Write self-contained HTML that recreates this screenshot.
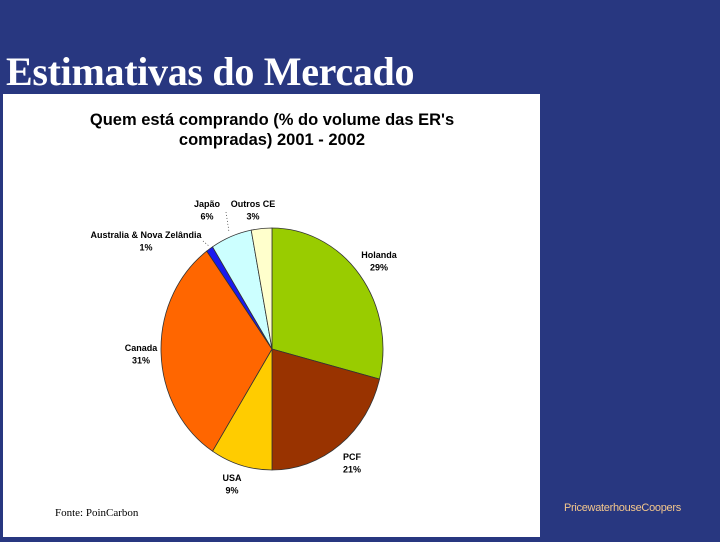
<!DOCTYPE html>
<html><head><meta charset="utf-8"><style>
body{margin:0;width:720px;height:540px;background:#283780;position:relative;overflow:hidden;font-family:"Liberation Sans",sans-serif}
#title{position:absolute;left:6px;top:48px;font:bold 40px "Liberation Serif",serif;color:#fff;white-space:nowrap;letter-spacing:-0.3px}
#panel{position:absolute;left:3px;top:94px;width:537px;height:443px;background:#fff}
#pwc{position:absolute;left:564px;top:502px;font-size:11px;color:#f3c78c;letter-spacing:-0.3px}
</style></head><body>
<div id="title">Estimativas do Mercado</div>
<div id="panel">
<svg width="537" height="443" id="svg">
<text x="269" y="31" text-anchor="middle" font-family="Liberation Sans" font-weight="bold" font-size="16.5">Quem está comprando (% do volume das ER's</text>
<text x="269" y="51" text-anchor="middle" font-family="Liberation Sans" font-weight="bold" font-size="16.5">compradas) 2001 - 2002</text>
<text x="52" y="422" font-family="Liberation Serif" font-size="11">Fonte: PoinCarbon</text>
<line x1="223" y1="118" x2="226" y2="138" stroke="#333" stroke-width="0.7" stroke-dasharray="1,2"/>
<line x1="200" y1="147" x2="206" y2="152" stroke="#333" stroke-width="0.7" stroke-dasharray="1,2"/>
</svg>
</div>
<div id="pwc">PricewaterhouseCoopers</div>
<script>
const categories=["Holanda","PCF","USA","Canada","Australia & Nova Zelândia","Japão","Outros CE"];
const values=[29,21,9,31,1,6,3];
const colors=["#99cc00","#993300","#ffcc00","#ff6600","#1a1aee","#ccffff","#ffffcc"];
const labelPos=[[376,164],[349,366],[229,387],[138,257],[143,144],[204,113],[250,113]];
const svg=document.getElementById('svg');const NS="http://www.w3.org/2000/svg";
const cx=269,cy=255,rx=111,ry=121;
const total=values.reduce((a,b)=>a+b,0);
let a0=0;
values.forEach((v,i)=>{
 const a1=a0+v/total*2*Math.PI;
 const x0=cx+rx*Math.sin(a0),y0=cy-ry*Math.cos(a0),x1=cx+rx*Math.sin(a1),y1=cy-ry*Math.cos(a1);
 const p=document.createElementNS(NS,'path');
 p.setAttribute('d',`M${cx},${cy}L${x0},${y0}A${rx},${ry} 0 ${a1-a0>Math.PI?1:0} 1 ${x1},${y1}Z`);
 p.setAttribute('fill',colors[i]);p.setAttribute('stroke','#333');p.setAttribute('stroke-width','0.8');
 
 
 svg.appendChild(p);
 const [lx,ly]=labelPos[i];
 [categories[i],v+'%'].forEach((s,k)=>{
  const t=document.createElementNS(NS,'text');
  t.setAttribute('x',lx);t.setAttribute('y',ly+k*12.5);t.setAttribute('text-anchor','middle');
  t.setAttribute('font-size','9');t.setAttribute('font-weight','bold');t.setAttribute('font-family','Liberation Sans');
  t.textContent=s;
  
  
  svg.appendChild(t);
 });
 a0=a1;
});
</script>
</body></html>
